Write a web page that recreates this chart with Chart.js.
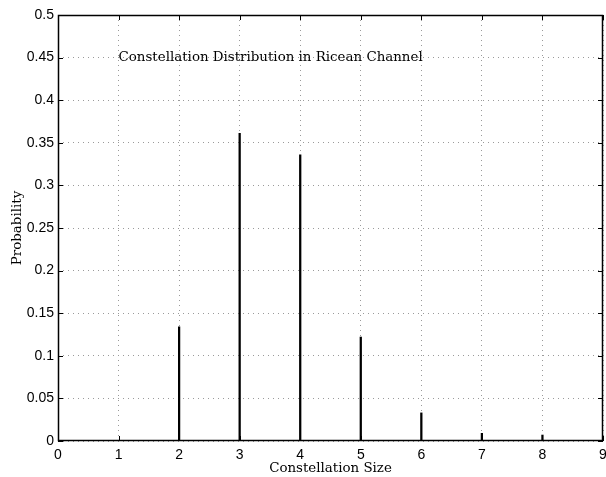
<!DOCTYPE html>
<html lang="en">
<head>
  <meta charset="UTF-8">
  <title>Constellation Distribution in Ricean Channel</title>
  <script src="https://cdn.jsdelivr.net/npm/chart.js"></script>
  <style>
    body { margin: 0; background: #fff; }
    canvas { display: block; }
  </style>
</head>
<body>
<canvas id="chart" width="606" height="477"></canvas>
<script>
// constellation size vs probability
const sizes = [2, 3, 4, 5, 6, 7, 8];
const probs = [0.134, 0.361, 0.336, 0.122, 0.033, 0.009, 0.007];
const xTicks = [0, 1, 2, 3, 4, 5, 6, 7, 8, 9];
const yTicks = [0, 0.05, 0.1, 0.15, 0.2, 0.25, 0.3, 0.35, 0.4, 0.45, 0.5];

const serif = '"DejaVu Serif", "Liberation Serif", serif';
const sans = '"Liberation Sans", Arial, sans-serif';

// box, inward ticks and the in-plot label
const matlabBits = {
  id: 'matlabBits',
  afterDraw(chart) {
    const { ctx, chartArea: a, scales: { x, y } } = chart;
    ctx.save();
    ctx.strokeStyle = '#000';
    ctx.lineWidth = 1;
    ctx.beginPath();
    xTicks.forEach(v => {
      const px = Math.round(x.getPixelForValue(v)) + 0.5;
      ctx.moveTo(px, a.bottom); ctx.lineTo(px, a.bottom - 5);
      ctx.moveTo(px, a.top); ctx.lineTo(px, a.top + 5);
    });
    yTicks.forEach(v => {
      const py = Math.round(y.getPixelForValue(v)) + 0.5;
      ctx.moveTo(a.left, py); ctx.lineTo(a.left + 5, py);
      ctx.moveTo(a.right, py); ctx.lineTo(a.right - 5, py);
    });
    ctx.stroke();
    ctx.lineWidth = 1.5;
    ctx.strokeRect(a.left + 0.5, a.top + 0.5, a.right - a.left - 1, a.bottom - a.top - 1);
    ctx.fillStyle = '#000';
    ctx.font = '13.4px ' + serif;
    ctx.textAlign = 'left';
    ctx.textBaseline = 'middle';
    ctx.fillText('Constellation Distribution in Ricean Channel', x.getPixelForValue(1), y.getPixelForValue(0.45));
    ctx.restore();
  }
};

new Chart(document.getElementById('chart'), {
  type: 'bar',
  data: {
    datasets: [{
      data: sizes.map((s, i) => ({ x: s, y: probs[i] })),
      backgroundColor: '#000',
      borderWidth: 0,
      barThickness: 1.6
    }]
  },
  options: {
    responsive: false,
    animation: false,
    layout: { padding: { top: 15, right: 3, left: 0, bottom: 0 } },
    plugins: { legend: { display: false }, tooltip: { enabled: false } },
    scales: {
      x: {
        type: 'linear', min: 0, max: 9, offset: false,
        afterBuildTicks: s => { s.ticks = xTicks.map(v => ({ value: v })); },
        afterFit: s => { s.height = 36; s.paddingLeft = 0; s.paddingRight = 0; },
        grid: { color: '#9a9a9a', drawTicks: false, offset: false },
        border: { display: false, dash: [1, 4] },
        ticks: { color: '#000', font: { family: sans, size: 14 }, padding: 6 },
        title: { display: true, text: 'Constellation Size', color: '#000', font: { family: serif, size: 13.4 }, padding: 0 }
      },
      y: {
        min: 0, max: 0.5,
        afterBuildTicks: s => { s.ticks = yTicks.map(v => ({ value: v })); },
        afterFit: s => { s.width = 58; s.paddingTop = 0; s.paddingBottom = 0; },
        grid: { color: '#9a9a9a', drawTicks: false },
        border: { display: false, dash: [1, 4] },
        ticks: { color: '#000', font: { family: sans, size: 14 }, padding: 4, callback: v => String(v) },
        title: { display: true, text: 'Probability', color: '#000', font: { family: serif, size: 13.4 }, padding: { top: 9, bottom: 0 } }
      }
    }
  },
  plugins: [matlabBits]
});
</script>
</body>
</html>
